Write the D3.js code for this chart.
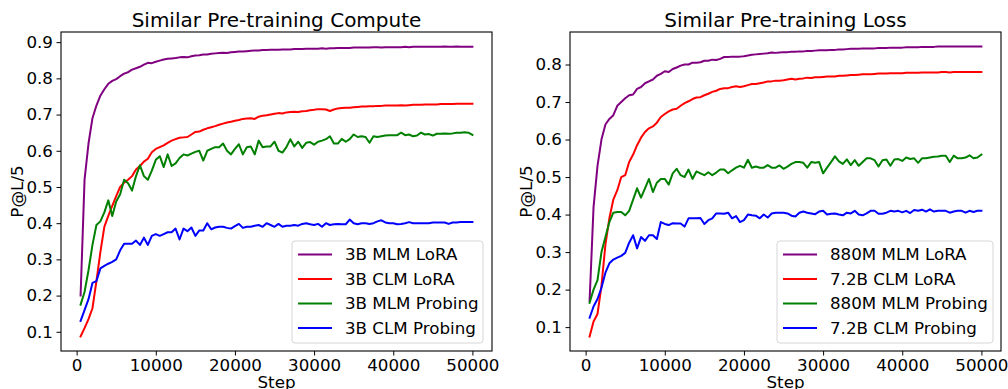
<!DOCTYPE html>
<html>
<head>
<meta charset="utf-8">
<script src="https://cdn.jsdelivr.net/npm/d3@7/dist/d3.min.js"></script>
<style>
  html, body { margin: 0; padding: 0; background: #fff; }
  svg { display: block; font-family: "DejaVu Sans", sans-serif; }
</style>
</head>
<body>
<svg id="chart" width="1008" height="389"></svg>
<script>
// Evaluation steps (every 500 steps)
const steps = d3.range(500, 50001, 500);

// Panel 1: similar pre-training compute
const leftTitle = "Similar Pre-training Compute";
const leftNames = ["3B MLM LoRA", "3B CLM LoRA", "3B MLM Probing", "3B CLM Probing"];
const left_mlmLora = [
  0.20, 0.52, 0.62, 0.69, 0.725, 0.752, 0.770, 0.785, 0.793, 0.798,
  0.806, 0.813, 0.817, 0.824, 0.828, 0.832, 0.838, 0.843, 0.842, 0.846,
  0.849, 0.852, 0.854, 0.855, 0.856, 0.858, 0.859, 0.858, 0.861, 0.863,
  0.864, 0.866, 0.866, 0.868, 0.869, 0.870, 0.871, 0.870, 0.872, 0.873,
  0.874, 0.874, 0.875, 0.876, 0.877, 0.877, 0.878, 0.878, 0.879, 0.879,
  0.879, 0.880, 0.880, 0.880, 0.881, 0.881, 0.881, 0.882, 0.882, 0.882,
  0.882, 0.883, 0.882, 0.883, 0.883, 0.884, 0.884, 0.884, 0.884, 0.885,
  0.885, 0.885, 0.885, 0.885, 0.886, 0.886, 0.885, 0.886, 0.886, 0.886,
  0.886, 0.886, 0.887, 0.886, 0.887, 0.887, 0.887, 0.887, 0.887, 0.887,
  0.887, 0.887, 0.888, 0.887, 0.887, 0.888, 0.887, 0.887, 0.887, 0.887
];
const left_clmLora = [
  0.087, 0.110, 0.135, 0.165, 0.240, 0.320, 0.390, 0.420, 0.448, 0.475,
  0.500, 0.512, 0.520, 0.530, 0.548, 0.558, 0.570, 0.578, 0.596, 0.605,
  0.610, 0.615, 0.622, 0.628, 0.632, 0.636, 0.637, 0.638, 0.645, 0.652,
  0.653, 0.658, 0.662, 0.665, 0.668, 0.672, 0.675, 0.678, 0.680, 0.683,
  0.685, 0.688, 0.689, 0.690, 0.688, 0.694, 0.697, 0.698, 0.700, 0.702,
  0.704, 0.703, 0.706, 0.707, 0.708, 0.707, 0.709, 0.710, 0.712, 0.713,
  0.715, 0.715, 0.714, 0.710, 0.714, 0.717, 0.718, 0.719, 0.719, 0.720,
  0.721, 0.722, 0.722, 0.723, 0.723, 0.724, 0.724, 0.725, 0.725, 0.725,
  0.725, 0.726, 0.725, 0.726, 0.727, 0.727, 0.727, 0.728, 0.728, 0.728,
  0.728, 0.729, 0.729, 0.729, 0.729, 0.730, 0.730, 0.730, 0.730, 0.730
];
const left_mlmProbe = [
  0.175, 0.210, 0.270, 0.340, 0.395, 0.405, 0.430, 0.463, 0.420, 0.460,
  0.480, 0.520, 0.510, 0.490, 0.530, 0.560, 0.530, 0.520, 0.545, 0.575,
  0.585, 0.555, 0.590, 0.558, 0.565, 0.580, 0.590, 0.587, 0.592, 0.597,
  0.600, 0.573, 0.600, 0.605, 0.610, 0.610, 0.620, 0.600, 0.590, 0.605,
  0.618, 0.590, 0.610, 0.612, 0.590, 0.628, 0.610, 0.612, 0.612, 0.625,
  0.600, 0.595, 0.610, 0.632, 0.612, 0.625, 0.608, 0.622, 0.624, 0.617,
  0.625, 0.628, 0.632, 0.640, 0.620, 0.620, 0.633, 0.625, 0.632, 0.645,
  0.638, 0.640, 0.638, 0.622, 0.640, 0.638, 0.640, 0.642, 0.643, 0.643,
  0.643, 0.650, 0.643, 0.645, 0.640, 0.642, 0.650, 0.645, 0.646, 0.642,
  0.647, 0.647, 0.648, 0.647, 0.648, 0.650, 0.650, 0.651, 0.650, 0.644
];
const left_clmProbe = [
  0.130, 0.160, 0.190, 0.235, 0.240, 0.275, 0.282, 0.288, 0.293, 0.300,
  0.325, 0.343, 0.343, 0.343, 0.352, 0.340, 0.360, 0.340, 0.365, 0.370,
  0.365, 0.370, 0.375, 0.375, 0.385, 0.355, 0.385, 0.378, 0.388, 0.365,
  0.380, 0.380, 0.400, 0.383, 0.388, 0.390, 0.390, 0.387, 0.385, 0.392,
  0.398, 0.387, 0.390, 0.390, 0.393, 0.395, 0.390, 0.400, 0.395, 0.390,
  0.398, 0.390, 0.393, 0.393, 0.395, 0.393, 0.398, 0.400, 0.397, 0.395,
  0.398, 0.390, 0.400, 0.395, 0.397, 0.398, 0.397, 0.397, 0.410, 0.400,
  0.397, 0.400, 0.400, 0.398, 0.400, 0.405, 0.408, 0.402, 0.400, 0.400,
  0.397, 0.398, 0.400, 0.403, 0.400, 0.400, 0.400, 0.400, 0.400, 0.402,
  0.402, 0.402, 0.402, 0.398, 0.402, 0.402, 0.403, 0.403, 0.403, 0.403
];

// Panel 2: similar pre-training loss
const rightTitle = "Similar Pre-training Loss";
const rightNames = ["880M MLM LoRA", "7.2B CLM LoRA", "880M MLM Probing", "7.2B CLM Probing"];
const right_mlmLora = [
  0.170, 0.420, 0.530, 0.600, 0.640, 0.655, 0.665, 0.690, 0.700, 0.710,
  0.718, 0.720, 0.735, 0.740, 0.750, 0.755, 0.760, 0.770, 0.775, 0.782,
  0.780, 0.788, 0.792, 0.797, 0.800, 0.800, 0.805, 0.805, 0.806, 0.810,
  0.810, 0.813, 0.812, 0.815, 0.820, 0.820, 0.821, 0.821, 0.821, 0.822,
  0.824, 0.826, 0.827, 0.828, 0.829, 0.830, 0.832, 0.831, 0.832, 0.833,
  0.833, 0.834, 0.834, 0.835, 0.835, 0.836, 0.836, 0.837, 0.838, 0.838,
  0.838, 0.839, 0.839, 0.840, 0.840, 0.841, 0.842, 0.842, 0.842, 0.843,
  0.843, 0.843, 0.843, 0.844, 0.844, 0.844, 0.845, 0.845, 0.845, 0.845,
  0.846, 0.846, 0.846, 0.846, 0.847, 0.847, 0.847, 0.847, 0.848, 0.848,
  0.848, 0.848, 0.848, 0.848, 0.848, 0.848, 0.848, 0.848, 0.848, 0.848
];
const right_clmLora = [
  0.075, 0.115, 0.135, 0.210, 0.320, 0.390, 0.440, 0.465, 0.500, 0.505,
  0.540, 0.560, 0.585, 0.605, 0.620, 0.630, 0.635, 0.645, 0.660, 0.668,
  0.675, 0.680, 0.682, 0.690, 0.697, 0.702, 0.708, 0.712, 0.713, 0.718,
  0.722, 0.727, 0.730, 0.735, 0.737, 0.737, 0.740, 0.742, 0.740, 0.742,
  0.745, 0.748, 0.748, 0.750, 0.752, 0.755, 0.755, 0.757, 0.757, 0.758,
  0.760, 0.762, 0.760, 0.762, 0.763, 0.765, 0.764, 0.766, 0.766, 0.767,
  0.768, 0.768, 0.768, 0.770, 0.770, 0.771, 0.772, 0.772, 0.773, 0.774,
  0.774, 0.774, 0.775, 0.776, 0.776, 0.776, 0.777, 0.777, 0.777, 0.777,
  0.778, 0.778, 0.778, 0.778, 0.779, 0.779, 0.779, 0.779, 0.779, 0.780,
  0.780, 0.779, 0.780, 0.780, 0.780, 0.780, 0.780, 0.780, 0.780, 0.780
];
const right_mlmProbe = [
  0.165, 0.200, 0.225, 0.300, 0.340, 0.380, 0.405, 0.407, 0.407, 0.398,
  0.410, 0.440, 0.470, 0.445, 0.470, 0.495, 0.460, 0.485, 0.495, 0.495,
  0.480, 0.510, 0.522, 0.505, 0.500, 0.520, 0.495, 0.515, 0.510, 0.505,
  0.513, 0.505, 0.512, 0.520, 0.520, 0.510, 0.518, 0.525, 0.530, 0.525,
  0.546, 0.525, 0.528, 0.525, 0.525, 0.532, 0.525, 0.525, 0.531, 0.522,
  0.528, 0.535, 0.540, 0.540, 0.538, 0.525, 0.540, 0.538, 0.540, 0.510,
  0.525, 0.540, 0.555, 0.542, 0.535, 0.547, 0.532, 0.545, 0.530, 0.540,
  0.550, 0.550, 0.545, 0.528, 0.545, 0.547, 0.530, 0.547, 0.548, 0.543,
  0.552, 0.548, 0.550, 0.538, 0.550, 0.550, 0.552, 0.554, 0.555, 0.557,
  0.557, 0.540, 0.557, 0.550, 0.550, 0.552, 0.558, 0.550, 0.552, 0.560
];
const right_clmProbe = [
  0.125, 0.155, 0.175, 0.205, 0.245, 0.270, 0.280, 0.285, 0.290, 0.298,
  0.325, 0.345, 0.310, 0.340, 0.330, 0.345, 0.345, 0.335, 0.380, 0.375,
  0.372, 0.377, 0.376, 0.376, 0.368, 0.390, 0.390, 0.390, 0.391, 0.375,
  0.385, 0.390, 0.403, 0.403, 0.402, 0.405, 0.390, 0.396, 0.380, 0.385,
  0.400, 0.398, 0.397, 0.390, 0.400, 0.392, 0.403, 0.405, 0.405, 0.405,
  0.403, 0.397, 0.395, 0.405, 0.408, 0.405, 0.403, 0.401, 0.408, 0.410,
  0.400, 0.402, 0.403, 0.400, 0.398, 0.405, 0.403, 0.410, 0.400, 0.398,
  0.403, 0.410, 0.410, 0.402, 0.402, 0.405, 0.410, 0.408, 0.410, 0.406,
  0.410, 0.404, 0.412, 0.410, 0.413, 0.408, 0.414, 0.408, 0.410, 0.410,
  0.410, 0.405, 0.408, 0.410, 0.410, 0.405, 0.410, 0.407, 0.410, 0.410
];

const seriesColors = ["#800080", "#ff0000", "#008000", "#0000ff"];
const xTicks = [0, 10000, 20000, 30000, 40000, 50000];
const leftYTicks = [0.1, 0.2, 0.3, 0.4, 0.5, 0.6, 0.7, 0.8, 0.9];
const rightYTicks = [0.1, 0.2, 0.3, 0.4, 0.5, 0.6, 0.7, 0.8];
const xLabel = "Step";
const yLabel = "P@L/5";

const FONT = "16.7px";
const svg = d3.select("#chart");

// Pad a data extent by 5% on each side
function padded(lo, hi) {
  const m = (hi - lo) * 0.05;
  return [lo - m, hi + m];
}

function drawPanel(cfg) {
  const { x0, x1, y0, y1, title, names, series, yTicks, legend } = cfg;
  const g = svg.append("g");

  const all = series.flat();
  const x = d3.scaleLinear().domain(padded(d3.min(steps), d3.max(steps))).range([x0, x1]);
  const y = d3.scaleLinear().domain(padded(d3.min(all), d3.max(all))).range([y1, y0]);

  // Curves
  const line = d3.line().x((d, i) => x(steps[i])).y(d => y(d));
  series.forEach((vals, k) => {
    g.append("path")
      .datum(vals)
      .attr("d", line)
      .attr("fill", "none")
      .attr("stroke", seriesColors[k])
      .attr("stroke-width", 2)
      .attr("stroke-linejoin", "round")
      .attr("stroke-linecap", "square");
  });

  // Axes
  const xAxis = d3.axisBottom(x).tickValues(xTicks).tickFormat(d3.format("d"))
    .tickSizeOuter(0).tickSizeInner(4.5).tickPadding(3.5);
  const yAxis = d3.axisLeft(y).tickValues(yTicks).tickFormat(d3.format(".1f"))
    .tickSizeOuter(0).tickSizeInner(4.5).tickPadding(3.5);

  const gx = g.append("g").attr("transform", `translate(0,${y1})`).call(xAxis);
  const gy = g.append("g").attr("transform", `translate(${x0},0)`).call(yAxis);
  [gx, gy].forEach(a => {
    a.select(".domain").remove();
    a.selectAll(".tick line").attr("stroke", "#000").attr("stroke-width", 1);
    a.selectAll(".tick text").attr("fill", "#000")
      .style("font-size", FONT).style("font-family", "DejaVu Sans, sans-serif");
  });

  // Frame
  g.append("rect")
    .attr("x", x0).attr("y", y0)
    .attr("width", x1 - x0).attr("height", y1 - y0)
    .attr("fill", "none").attr("stroke", "#000").attr("stroke-width", 1.1);

  // Title and axis labels
  g.append("text")
    .attr("x", (x0 + x1) / 2).attr("y", 27)
    .attr("text-anchor", "middle")
    .style("font-size", "20px")
    .text(title);
  g.append("text")
    .attr("x", (x0 + x1) / 2).attr("y", 388)
    .attr("text-anchor", "middle")
    .style("font-size", FONT)
    .text(xLabel);
  g.append("text")
    .attr("transform", `translate(${x0 - 38},${(y0 + y1) / 2}) rotate(-90)`)
    .attr("text-anchor", "middle")
    .style("font-size", FONT)
    .text(yLabel);

  // Legend
  const lg = g.append("g");
  lg.append("rect")
    .attr("x", legend.x).attr("y", legend.y)
    .attr("width", legend.w).attr("height", legend.h)
    .attr("rx", 3).attr("ry", 3)
    .attr("fill", "#fff").attr("fill-opacity", 0.8)
    .attr("stroke", "#d6d6d6").attr("stroke-width", 1);
  names.forEach((name, k) => {
    const cy = legend.y + 13.5 + k * 24.5;
    lg.append("line")
      .attr("x1", legend.x + 6).attr("x2", legend.x + 40)
      .attr("y1", cy).attr("y2", cy)
      .attr("stroke", seriesColors[k]).attr("stroke-width", 2);
    lg.append("text")
      .attr("x", legend.x + 53).attr("y", cy)
      .attr("dy", "0.35em")
      .style("font-size", FONT)
      .text(name);
  });
}

drawPanel({
  x0: 61, x1: 492, y0: 32, y1: 351,
  title: leftTitle, names: leftNames,
  series: [left_mlmLora, left_clmLora, left_mlmProbe, left_clmProbe],
  yTicks: leftYTicks,
  legend: { x: 292, y: 241, w: 191, h: 102 }
});

drawPanel({
  x0: 570, x1: 1001, y0: 32, y1: 351,
  title: rightTitle, names: rightNames,
  series: [right_mlmLora, right_clmLora, right_mlmProbe, right_clmProbe],
  yTicks: rightYTicks,
  legend: { x: 777, y: 241, w: 216, h: 102 }
});
</script>
</body>
</html>
